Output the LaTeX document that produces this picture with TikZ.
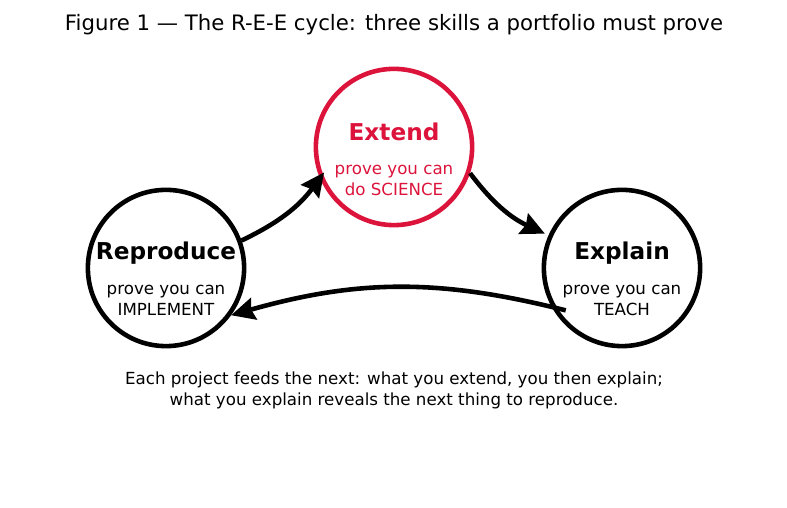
\documentclass[tikz,border=0pt]{standalone}
\usepackage{fontspec}
\setmainfont{DejaVu Sans}
\usetikzlibrary{positioning,arrows.meta}
\definecolor{crimson}{RGB}{220,20,60}

\begin{document}
\begin{tikzpicture}[x=0.72pt,y=0.72pt,
    stage/.style={draw,circle,line width=3.3pt,minimum size=112.5pt,inner sep=0pt},
    stagename/.style={font=\fontsize{16.7}{20}\selectfont\bfseries,inner sep=0pt},
    stagenote/.style={font=\fontsize{12}{15}\selectfont,align=center,inner sep=0pt},
    flow/.style={-{Stealth[length=17pt,width=16pt,inset=2pt]},line width=3.3pt}]
  \useasboundingbox (0,0) rectangle (787,508);
  \node[font=\fontsize{15.3}{18}\selectfont] (title) at (394,483) {Figure 1 — The R-E-E cycle: three skills a portfolio must prove};
  % the three stages
  \node[stage] (rep) at (166,240) {};
  \node[stage,draw=crimson] (ext) at (394,361) {};
  \node[stage] (expl) at (622,240) {};
  \node[stagename] (rep-t) at (166,255) {Reproduce};
  \node[stagenote] (rep-s) at (166,207.5) {prove you can\\IMPLEMENT};
  \node[stagename,text=crimson] (ext-t) at (394,376) {Extend};
  \node[stagenote,text=crimson] (ext-s) at (394,327.5) {prove you can\\do SCIENCE};
  \node[stagename] (expl-t) at (622,255) {Explain};
  \node[stagenote] (expl-s) at (622,207.5) {prove you can\\TEACH};
  % cycle
  \draw[flow] (rep.20) to[bend right=14] ([shift={(20:6)}]ext.200);
  \draw[flow] (ext.-19) to[bend right=14] ([shift={(156:4)}]expl.156);
  \draw[flow] ([shift={(37:10)}]expl.217) to[bend right=15] (rep.-36);
  \node[stagenote] (note) at (394,118) {Each project feeds the next: what you extend, you then explain;\\what you explain reveals the next thing to reproduce.};
\end{tikzpicture}
\end{document}
